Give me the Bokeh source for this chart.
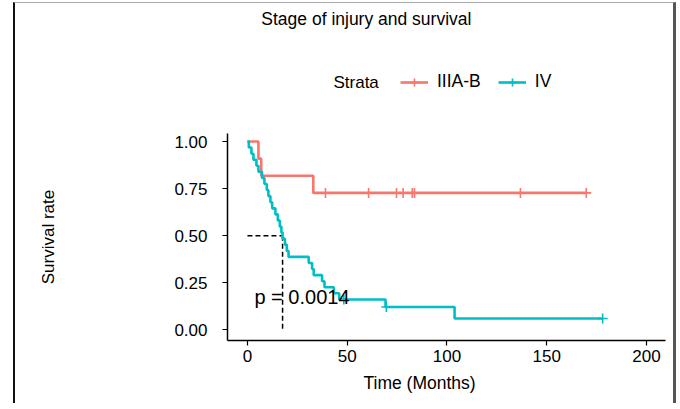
from bokeh.plotting import figure
from bokeh.layouts import column
from bokeh.models import Label, Legend, LegendItem, Range1d, FixedTicker, Title
from bokeh.embed import file_html
from bokeh.resources import INLINE

# ---------------- data ----------------
strata_names = ["IIIA-B", "IV"]
strata_colors = ["#F8766D", "#00BFC4"]

red_time = [0.0, 5.5, 6.9, 33.0, 169.8]
red_surv = [1.000, 0.909, 0.818, 0.727, 0.727]
red_cens_time = [39.1, 60.7, 74.7, 78.0, 82.6, 83.7, 136.8, 169.8]
red_cens_surv = [0.727, 0.727, 0.727, 0.727, 0.727, 0.727, 0.727, 0.727]

teal_time = [0.0, 0.7, 2.0, 3.0, 4.5, 5.5, 7.3, 8.5, 9.7, 10.5, 11.5, 12.4,
             14.0, 15.2, 16.2, 17.0, 17.6, 18.8, 19.7, 20.6, 30.7, 32.4, 33.2,
             37.4, 38.6, 43.3, 46.0, 69.2, 103.8, 178.0]
teal_surv = [1.000, 0.968, 0.935, 0.903, 0.871, 0.839, 0.806, 0.774, 0.742,
             0.710, 0.677, 0.645, 0.613, 0.581, 0.548, 0.516, 0.484, 0.452,
             0.419, 0.387, 0.355, 0.323, 0.290, 0.258, 0.226, 0.194, 0.161,
             0.121, 0.060, 0.060]
teal_cens_time = [48.3, 69.6, 178.0]
teal_cens_surv = [0.161, 0.121, 0.060]

median_time = 17.6
median_surv = 0.5
p_value_text = "p = 0.0014"

x_ticks = [0, 50, 100, 150, 200]
y_ticks = [0.0, 0.25, 0.5, 0.75, 1.0]
y_tick_labels = ["0.00", "0.25", "0.50", "0.75", "1.00"]

title_text = "Stage of injury and survival"
x_label = "Time (Months)"
y_label = "Survival rate"
legend_title = "Strata"

series = [(red_time, red_surv, red_cens_time, red_cens_surv),
          (teal_time, teal_surv, teal_cens_time, teal_cens_surv)]

FONT = "'Liberation Sans', Arial, sans-serif"
W = 658
X_RANGE = (-10.0, 209.5)
TOP_H = 120

# ---------------- header figure: title + legend ----------------
top = figure(width=W, height=TOP_H, output_backend="svg", toolbar_location=None,
             x_range=Range1d(*X_RANGE), y_range=Range1d(0, TOP_H),
             x_axis_location=None, y_axis_location=None,
             min_border_top=0, min_border_bottom=0)
top.outline_line_color = None
top.grid.visible = False

top.add_layout(Label(x=59.6, y=105, text=title_text, text_font=FONT,
                     text_font_size="17.5px", text_color="black",
                     text_baseline="middle", text_align="center"))
top.add_layout(Label(x=43.1, y=41, text=legend_title, text_font=FONT,
                     text_font_size="17px", text_color="black",
                     text_baseline="middle", text_align="left"))

# legend keys: hidden copies of the series (only their styles are shown in the key)
key_renderers = []
for (t, s, ct, cs), col in zip(series, strata_colors):
    rl = top.step(t, s, mode="after", line_color=col, line_width=2.6, visible=False)
    rc = top.scatter(ct, cs, marker="cross", size=10, line_color=col,
                     line_width=1.6, visible=False)
    key_renderers.append([rl, rc])

legend = Legend(items=[LegendItem(label=strata_names[i], renderers=key_renderers[i])
                       for i in range(2)],
                orientation="horizontal", location=(173, 31))
legend.border_line_color = None
legend.background_fill_alpha = 0
legend.inactive_fill_alpha = 0
legend.padding = 0
legend.margin = 0
legend.spacing = 17
legend.glyph_width = 28
legend.glyph_height = 20
legend.label_standoff = 9
legend.label_text_font = FONT
legend.label_text_font_size = "17.5px"
legend.label_text_color = "black"
top.add_layout(legend)

# ---------------- main figure ----------------
p = figure(width=W, height=280, output_backend="svg", toolbar_location=None,
           x_range=Range1d(*X_RANGE), y_range=Range1d(-0.057, 1.0425),
           min_border_left=212, min_border_right=8, min_border_top=10,
           min_border_bottom=63)
p.outline_line_color = None
p.xgrid.visible = False
p.ygrid.visible = False

for ax in (p.xaxis[0], p.yaxis[0]):
    ax.axis_line_color = "black"
    ax.axis_line_width = 1.5
    ax.major_tick_line_color = "black"
    ax.major_tick_line_width = 1.2
    ax.major_tick_out = 5
    ax.major_tick_in = 0
    ax.minor_tick_out = 0
    ax.minor_tick_in = 0
    ax.major_label_text_font = FONT
    ax.major_label_text_font_size = "17px"
    ax.major_label_text_color = "black"

p.xaxis.ticker = FixedTicker(ticks=x_ticks)
p.xaxis.major_label_standoff = 4
p.yaxis.ticker = FixedTicker(ticks=y_ticks)
p.yaxis.major_label_overrides = {t: s for t, s in zip(y_ticks, y_tick_labels)}
p.yaxis.major_label_standoff = 15
p.yaxis.axis_label = y_label
p.yaxis.axis_label_text_font = FONT
p.yaxis.axis_label_text_font_size = "17px"
p.yaxis.axis_label_text_font_style = "normal"
p.yaxis.axis_label_text_color = "black"
p.yaxis.axis_label_standoff = 113

p.add_layout(Title(text=x_label, align="left", offset=136, standoff=13,
                   text_font=FONT, text_font_size="17.5px", text_font_style="normal",
                   text_color="black"), "below")

# median lines
p.line([0, median_time], [median_surv, median_surv], line_color="black",
       line_width=1.5, line_dash="5 3")
p.line([median_time, median_time], [median_surv, 0], line_color="black",
       line_width=1.5, line_dash="5 3")

# curves
for (t, s, ct, cs), col in zip(series, strata_colors):
    p.step(t, s, mode="after", line_color=col, line_width=2.6)
    p.scatter(ct, cs, marker="cross", size=10, line_color=col, line_width=1.6)

p.add_layout(Label(x=3.5, y=0.174, text=p_value_text, text_font=FONT,
                   text_font_size="20px", text_color="black",
                   text_baseline="alphabetic", text_align="left"))

layout = column(top, p, margin=(2, 0, 0, 13),
                styles={"border-left": "2px solid #111111",
                        "border-top": "1px solid #aaaaaa",
                        "border-right": "3px solid #555555"})

open("out.html", "w").write(file_html(layout, INLINE))
